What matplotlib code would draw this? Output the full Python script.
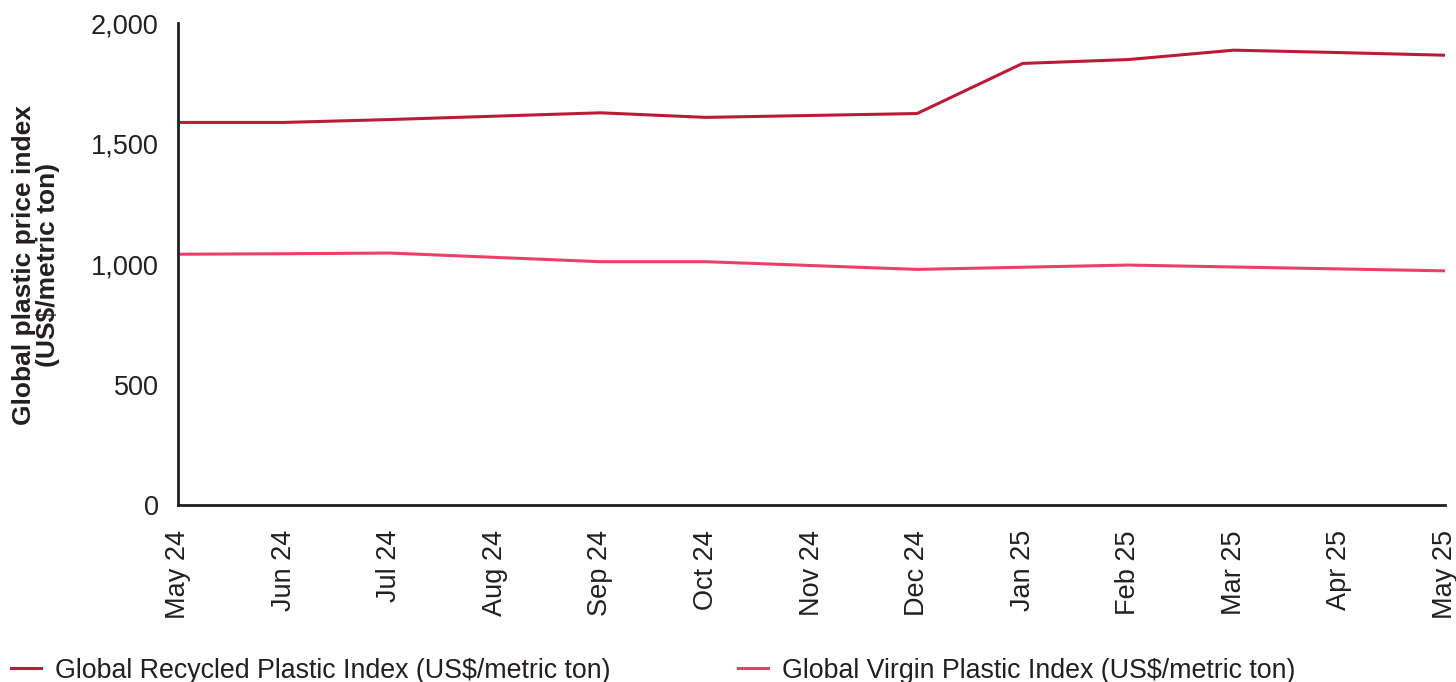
import matplotlib
matplotlib.use('Agg')
import matplotlib.pyplot as plt
from matplotlib.ticker import FuncFormatter

months = ['May 24', 'Jun 24', 'Jul 24', 'Aug 24', 'Sep 24', 'Oct 24', 'Nov 24',
          'Dec 24', 'Jan 25', 'Feb 25', 'Mar 25', 'Apr 25', 'May 25']
recycled = [1588, 1588, 1600, 1614, 1628, 1609, 1617, 1625, 1833, 1849, 1888, 1878, 1867]
virgin = [1041, 1043, 1046, 1028, 1010, 1010, 994, 978, 987, 996, 988, 980, 972]

plt.rcParams['font.family'] = ['Liberation Sans', 'DejaVu Sans']

fig = plt.figure(figsize=(14.56, 6.82), dpi=100)
ax = fig.add_axes([0.1223, 0.2595, 0.8701, 0.7065])

x = list(range(len(months)))
ax.plot(x, recycled, color='#BA1C38', lw=2.2, label='Global Recycled Plastic Index (US$/metric ton)')
ax.plot(x, virgin, color='#EC4068', lw=2.2, label='Global Virgin Plastic Index (US$/metric ton)')

ax.set_xlim(0, len(months) - 1)
ax.set_ylim(0, 2000)
ax.set_yticks([0, 500, 1000, 1500, 2000])
ax.yaxis.set_major_formatter(FuncFormatter(lambda v, p: f'{int(v):,}'))
ax.set_xticks(x)
ax.set_xticklabels(months, rotation=90, va='top', ha='center')

for s in ['top', 'right']:
    ax.spines[s].set_visible(False)
for s in ['left', 'bottom']:
    ax.spines[s].set_color('#231F20')
    ax.spines[s].set_linewidth(2)
ax.tick_params(axis='both', length=0, labelsize=19.5, colors='#231F20')
ax.tick_params(axis='y', pad=14)
ax.tick_params(axis='x', pad=18)

# y label placed by hand so it sits against the left edge like the original
fig.text(0.025, 0.611, 'Global plastic price index\n(US$/metric ton)', rotation=90,
         ha='center', va='center', fontsize=19, fontweight='bold', color='#231F20',
         linespacing=1.0, multialignment='center')

leg = fig.legend(loc='lower left', bbox_to_anchor=(-0.009, -0.038), ncol=2, frameon=False,
                 fontsize=19.3, handlelength=1.1, columnspacing=4.75, handletextpad=0.55)
for t in leg.get_texts():
    t.set_color('#231F20')

fig.savefig('out.png', dpi=100)
